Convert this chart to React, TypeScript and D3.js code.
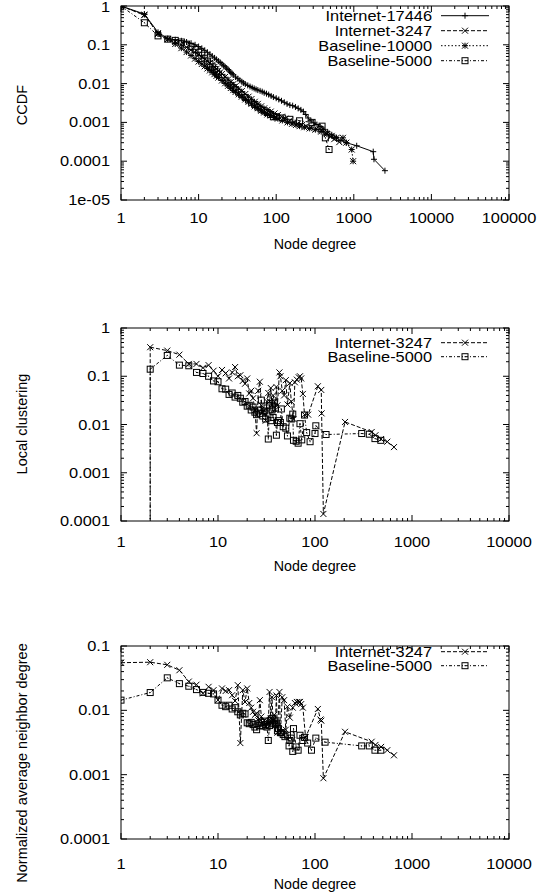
import React from "react";
import * as d3 from "d3";

type Pt = [number, number];

// ---------------- DATA ----------------
// Panel 1: CCDF of node degree
const ccdfInternet17446: Pt[] = [
  [1, 1], [2, 0.62], [3, 0.21], [4, 0.145], [5, 0.135], [6, 0.127], [7, 0.118], [8, 0.11], [9, 0.1], [10, 0.09],
  [11, 0.081], [12, 0.072], [13, 0.064], [14, 0.057], [15, 0.051], [16, 0.046], [17, 0.042], [18, 0.038], [19, 0.035],
  [20, 0.032], [21, 0.029], [22, 0.027], [23, 0.025], [24, 0.023], [25, 0.021], [26, 0.0195], [27, 0.018], [28, 0.0168],
  [30, 0.0148], [32, 0.0134], [34, 0.0122], [36, 0.0112], [38, 0.0104], [40, 0.0097], [43, 0.009], [46, 0.0084],
  [49, 0.0079], [52, 0.0075], [55, 0.0071], [58, 0.0068], [62, 0.0065], [66, 0.0062], [70, 0.0058], [75, 0.0055],
  [80, 0.0052], [86, 0.0048], [92, 0.0045], [100, 0.0042], [108, 0.0039], [117, 0.0036], [127, 0.0033], [138, 0.003],
  [150, 0.0028], [163, 0.0027], [177, 0.0025], [192, 0.0023], [208, 0.0021], [224, 0.0019], [240, 0.0016], [258, 0.0013],
  [280, 0.0011], [305, 0.00097], [335, 0.00088], [370, 0.00078], [410, 0.00066], [460, 0.00057], [520, 0.00048],
  [590, 0.00041], [680, 0.00034], [800, 0.0003], [1090, 0.00025], [1780, 0.000176], [1820, 0.000112], [2520, 0.000057],
];
const ccdfInternet3247: Pt[] = [
  [1, 1], [2, 0.58], [3, 0.2], [4, 0.14], [5, 0.12], [6, 0.1], [7, 0.086], [8, 0.074], [9, 0.064], [10, 0.056],
  [11, 0.049], [12, 0.043], [13, 0.038], [14, 0.034], [15, 0.03], [16, 0.027], [17, 0.024], [18, 0.0215], [19, 0.0195],
  [20, 0.0178], [22, 0.015], [24, 0.0128], [26, 0.011], [28, 0.0097], [30, 0.0086], [33, 0.0074], [36, 0.0064],
  [40, 0.0054], [44, 0.0046], [48, 0.004], [53, 0.0034], [58, 0.003], [64, 0.0026], [70, 0.0023], [77, 0.0021],
  [85, 0.0019], [95, 0.0017], [105, 0.00155], [118, 0.0014], [132, 0.00125], [150, 0.00112], [170, 0.001],
  [190, 0.00093], [215, 0.00086], [245, 0.0008], [280, 0.00074], [330, 0.00068], [380, 0.00062], [440, 0.00052],
  [500, 0.00043], [560, 0.00037], [650, 0.00031],
];
const ccdfBaseline10000: Pt[] = [
  [1, 1], [2, 0.6], [3, 0.19], [4, 0.14], [5, 0.105], [6, 0.082], [7, 0.065], [8, 0.053], [9, 0.044], [10, 0.037],
  [11, 0.032], [12, 0.028], [13, 0.0245], [14, 0.0218], [15, 0.0195], [16, 0.0175], [17, 0.0158], [18, 0.0143],
  [20, 0.012], [22, 0.0102], [24, 0.0088], [26, 0.0077], [28, 0.0068], [30, 0.0061], [33, 0.0053], [36, 0.0046],
  [40, 0.0039], [44, 0.0034], [48, 0.003], [53, 0.0026], [58, 0.0023], [64, 0.002], [70, 0.0018], [77, 0.0016],
  [85, 0.0015], [95, 0.00135], [105, 0.00125], [120, 0.00112], [140, 0.001], [160, 0.00092], [180, 0.00086],
  [200, 0.0008], [230, 0.00075], [270, 0.0007], [320, 0.00065], [380, 0.00058], [450, 0.0005], [520, 0.00045],
  [600, 0.0004], [725, 0.0004], [800, 0.0003], [940, 0.0002], [980, 0.0001],
];
const ccdfBaseline5000: Pt[] = [
  [1, 1], [2, 0.37], [3, 0.17], [4, 0.14], [5, 0.13], [6, 0.118], [7, 0.104], [8, 0.09], [9, 0.076], [10, 0.064],
  [11, 0.054], [12, 0.045], [13, 0.038], [14, 0.032], [15, 0.027], [16, 0.023], [17, 0.02], [18, 0.0175], [20, 0.0145],
  [22, 0.0122], [24, 0.0104], [26, 0.009], [28, 0.0079], [30, 0.007], [33, 0.006], [36, 0.0052], [40, 0.0044],
  [44, 0.0038], [48, 0.0033], [53, 0.0029], [58, 0.0025], [64, 0.0022], [70, 0.002], [77, 0.0018], [85, 0.0016],
  [92, 0.0014], [100, 0.0014], [120, 0.0013], [150, 0.0012], [200, 0.0011], [290, 0.001], [390, 0.0008],
  [430, 0.0004], [480, 0.0002],
];

// Panel 2: local clustering (0 = undefined at degree 1)
const clustInternet3247: Pt[] = [
  [1, 0], [2, 0.4], [3, 0.34], [4, 0.28], [5, 0.18], [6, 0.18], [7, 0.15], [8, 0.17], [9, 0.13], [10, 0.1],
  [11, 0.135], [12, 0.115], [13, 0.09], [14, 0.12], [15, 0.155], [16, 0.1], [17, 0.105], [18, 0.08], [19, 0.07],
  [20, 0.09], [21, 0.044], [22, 0.05], [23, 0.035], [24, 0.02], [25, 0.0066], [26, 0.05], [27, 0.077], [28, 0.025],
  [29, 0.018], [30, 0.02], [31, 0.012], [32, 0.03], [33, 0.045], [34, 0.03], [35, 0.057], [36, 0.025], [37, 0.04],
  [38, 0.03], [39, 0.02], [40, 0.06], [41, 0.025], [43, 0.12], [44, 0.1], [46, 0.05], [48, 0.04], [50, 0.083],
  [52, 0.026], [55, 0.072], [57, 0.03], [60, 0.013], [62, 0.075], [65, 0.085], [68, 0.095], [70, 0.1], [72, 0.09],
  [75, 0.043], [78, 0.016], [85, 0.016], [107, 0.062], [116, 0.052], [117, 0.017], [122, 0.00014], [204, 0.0113],
  [384, 0.007], [420, 0.006], [480, 0.005], [556, 0.0044], [652, 0.0034],
];
const clustBaseline5000: Pt[] = [
  [1, 0], [2, 0.14], [3, 0.27], [4, 0.17], [5, 0.165], [6, 0.12], [7, 0.114], [8, 0.1], [9, 0.08], [10, 0.077],
  [11, 0.055], [12, 0.054], [13, 0.042], [14, 0.045], [15, 0.037], [16, 0.04], [17, 0.035], [18, 0.029], [19, 0.03],
  [20, 0.024], [21, 0.025], [22, 0.02], [23, 0.023], [24, 0.018], [25, 0.016], [26, 0.02], [27, 0.017], [28, 0.032],
  [29, 0.015], [30, 0.019], [31, 0.013], [32, 0.022], [33, 0.005], [34, 0.025], [35, 0.012], [36, 0.02], [37, 0.014],
  [38, 0.028], [39, 0.022], [40, 0.006], [41, 0.011], [42, 0.012], [44, 0.011], [45, 0.021], [47, 0.009],
  [50, 0.0084], [52, 0.0058], [55, 0.0135], [57, 0.013], [59, 0.0164], [60, 0.0047], [64, 0.0045], [67, 0.0041],
  [70, 0.0104], [73, 0.0048], [78, 0.0157], [82, 0.0068], [89, 0.0044], [100, 0.0065], [102, 0.0094], [130, 0.0062],
  [303, 0.0065], [363, 0.0063], [415, 0.0051], [477, 0.0047],
];

// Panel 3: normalized average neighbor degree
const annInternet3247: Pt[] = [
  [1, 0.055], [2, 0.056], [3, 0.051], [4, 0.042], [5, 0.028], [6, 0.025], [7, 0.0183], [8, 0.0232], [9, 0.0206],
  [10, 0.0144], [11, 0.0219], [12, 0.02], [13, 0.0206], [14, 0.0172], [15, 0.014], [16, 0.0246], [17, 0.0031],
  [18, 0.0206], [19, 0.0135], [20, 0.0219], [21, 0.013], [22, 0.011], [23, 0.0095], [24, 0.0085], [25, 0.009],
  [26, 0.007], [27, 0.0144], [28, 0.008], [29, 0.0065], [30, 0.007], [31, 0.0055], [32, 0.006], [33, 0.0065],
  [34, 0.0193], [35, 0.0075], [36, 0.016], [37, 0.007], [38, 0.0085], [39, 0.006], [40, 0.017], [41, 0.0045],
  [43, 0.0193], [44, 0.0045], [46, 0.016], [48, 0.0144], [50, 0.005], [52, 0.0114], [55, 0.0077], [59, 0.011],
  [62, 0.013], [65, 0.0135], [68, 0.0135], [70, 0.0135], [72, 0.0125], [75, 0.011], [80, 0.0038], [107, 0.0105],
  [114, 0.0072], [116, 0.0069], [122, 0.00088], [204, 0.00464], [384, 0.00325], [420, 0.0029], [480, 0.0027],
  [556, 0.0024], [652, 0.002],
];
const annBaseline5000: Pt[] = [
  [1, 0.0144], [2, 0.0189], [3, 0.032], [4, 0.026], [5, 0.0237], [6, 0.021], [7, 0.019], [8, 0.0184], [9, 0.018],
  [10, 0.0144], [11, 0.012], [12, 0.0114], [13, 0.012], [14, 0.0105], [15, 0.011], [16, 0.0095], [17, 0.0085],
  [18, 0.009], [19, 0.0088], [20, 0.0064], [21, 0.0062], [22, 0.0065], [23, 0.006], [24, 0.0055], [25, 0.005],
  [26, 0.0062], [27, 0.0058], [28, 0.0065], [29, 0.0057], [30, 0.0068], [31, 0.006], [32, 0.0055], [33, 0.0034],
  [34, 0.0058], [35, 0.007], [36, 0.0075], [37, 0.0063], [38, 0.0068], [39, 0.006], [40, 0.0063], [41, 0.0048],
  [42, 0.0052], [44, 0.0045], [45, 0.0045], [47, 0.0042], [49, 0.0039], [52, 0.0041], [54, 0.0028], [55, 0.0034],
  [57, 0.0037], [59, 0.0023], [60, 0.0052], [64, 0.0027], [67, 0.0024], [70, 0.0041], [75, 0.0034], [78, 0.0038],
  [84, 0.0031], [92, 0.0024], [102, 0.0037], [127, 0.0032], [303, 0.0028], [363, 0.0028], [415, 0.0024], [477, 0.0024],
];

// Tick labels
const topXTicks = ["1", "10", "100", "1000", "10000", "100000"];
const topYTicks = ["1e-05", "0.0001", "0.001", "0.01", "0.1", "1"];
const midXTicks = ["1", "10", "100", "1000", "10000"];
const midYTicks = ["0.0001", "0.001", "0.01", "0.1", "1"];
const botXTicks = ["1", "10", "100", "1000", "10000"];
const botYTicks = ["0.0001", "0.001", "0.01", "0.1"];

// ---------------- STYLE / LAYOUT ----------------
const FONT = "'Liberation Sans', Arial, Helvetica, sans-serif";
const FS = 14;
const SX = 1.17;

type MarkerType = "plus" | "cross" | "star" | "box";
interface Series { name: string; data: Pt[]; dash: string | null; marker: MarkerType; }

const DASH_3247 = "4,2";
const DASH_10000 = "1.5,2";
const DASH_5000 = "3,2,1,2";

interface PanelDef {
  left: number; right: number; top: number; bottom: number;
  xDomain: [number, number]; yDomain: [number, number];
  xTicks: string[]; yTicks: string[];
  xLabelY: number; xTitleY: number;
  yTitle: string; yTitleY: number;
  legendY: number[]; series: Series[]; clipId: string;
}

const panels: PanelDef[] = [
  {
    left: 121, right: 509, top: 6, bottom: 200,
    xDomain: [1, 1e5], yDomain: [1e-5, 1],
    xTicks: topXTicks, yTicks: topYTicks,
    xLabelY: 223, xTitleY: 249, yTitle: "CCDF", yTitleY: 105,
    legendY: [15.7, 30.7, 45.7, 60.7], clipId: "c1",
    series: [
      { name: "Internet-17446", data: ccdfInternet17446, dash: null, marker: "plus" },
      { name: "Internet-3247", data: ccdfInternet3247, dash: DASH_3247, marker: "cross" },
      { name: "Baseline-10000", data: ccdfBaseline10000, dash: DASH_10000, marker: "star" },
      { name: "Baseline-5000", data: ccdfBaseline5000, dash: DASH_5000, marker: "box" },
    ],
  },
  {
    left: 121, right: 509, top: 328, bottom: 521,
    xDomain: [1, 1e4], yDomain: [1e-4, 1],
    xTicks: midXTicks, yTicks: midYTicks,
    xLabelY: 547, xTitleY: 571, yTitle: "Local clustering", yTitleY: 424,
    legendY: [342.7, 356.7], clipId: "c2",
    series: [
      { name: "Internet-3247", data: clustInternet3247, dash: DASH_3247, marker: "cross" },
      { name: "Baseline-5000", data: clustBaseline5000, dash: DASH_5000, marker: "box" },
    ],
  },
  {
    left: 121, right: 509, top: 646, bottom: 839,
    xDomain: [1, 1e4], yDomain: [1e-4, 0.1],
    xTicks: botXTicks, yTicks: botYTicks,
    xLabelY: 869, xTitleY: 889, yTitle: "Normalized average neighbor degree", yTitleY: 763,
    legendY: [651.7, 665.7], clipId: "c3",
    series: [
      { name: "Internet-3247", data: annInternet3247, dash: DASH_3247, marker: "cross" },
      { name: "Baseline-5000", data: annBaseline5000, dash: DASH_5000, marker: "box" },
    ],
  },
];

function Marker({ type, x, y }: { type: MarkerType; x: number; y: number }) {
  const s = 3;
  const st = { stroke: "#000", strokeWidth: 1, fill: "none" } as const;
  if (type === "plus") return <path d={`M${x - s},${y}H${x + s}M${x},${y - s}V${y + s}`} {...st} />;
  if (type === "cross") return <path d={`M${x - s},${y - s}L${x + s},${y + s}M${x - s},${y + s}L${x + s},${y - s}`} {...st} />;
  if (type === "star")
    return (
      <path
        d={`M${x - s},${y}H${x + s}M${x},${y - s}V${y + s}M${x - s},${y - s}L${x + s},${y + s}M${x - s},${y + s}L${x + s},${y - s}`}
        {...st}
      />
    );
  return (
    <g>
      <rect x={x - s} y={y - s} width={2 * s} height={2 * s} {...st} />
      <rect x={x - 0.5} y={y - 0.5} width={1} height={1} fill="#000" />
    </g>
  );
}

function HText({ x, y, anchor, children, sx = SX, fs = FS }: { x: number; y: number; anchor: string; children: React.ReactNode; sx?: number; fs?: number }) {
  return (
    <text transform={`translate(${x},${y}) scale(${sx},1)`} textAnchor={anchor as any} fontFamily={FONT} fontSize={fs} fill="#000">
      {children}
    </text>
  );
}

function Panel({ p }: { p: PanelDef }) {
  const x = d3.scaleLog().domain(p.xDomain).range([p.left, p.right]);
  const y = d3.scaleLog().domain(p.yDomain).range([p.bottom, p.top]);
  const major = 6, minor = 3;

  const decades = (dom: [number, number]) => {
    const lo = Math.round(Math.log10(dom[0])), hi = Math.round(Math.log10(dom[1]));
    const maj: number[] = [], min: number[] = [];
    for (let e = lo; e <= hi; e++) {
      maj.push(Math.pow(10, e));
      if (e < hi) for (let m = 2; m <= 9; m++) min.push(m * Math.pow(10, e));
    }
    return { maj, min };
  };
  const xt = decades(p.xDomain), yt = decades(p.yDomain);

  let tickPath = "";
  xt.maj.forEach((v) => { const px = x(v); tickPath += `M${px},${p.bottom}v${-major}M${px},${p.top}v${major}`; });
  xt.min.forEach((v) => { const px = x(v); tickPath += `M${px},${p.bottom}v${-minor}M${px},${p.top}v${minor}`; });
  yt.maj.forEach((v) => { const py = y(v); tickPath += `M${p.left},${py}h${major}M${p.right},${py}h${-major}`; });
  yt.min.forEach((v) => { const py = y(v); tickPath += `M${p.left},${py}h${minor}M${p.right},${py}h${-minor}`; });

  const line = d3.line<Pt>().defined((d) => d[1] > 0).x((d) => x(d[0])).y((d) => y(d[1]));

  const seriesPath = (data: Pt[]) => {
    let d = line(data) || "";
    // gnuplot-like: segment towards an undefined (zero) value drops to the bottom edge
    for (let i = 0; i < data.length - 1; i++) {
      const a = data[i], b = data[i + 1];
      if (a[1] <= 0 && b[1] > 0) d += `M${x(b[0])},${y(b[1])}V${p.bottom}`;
      if (b[1] <= 0 && a[1] > 0) d += `M${x(a[0])},${y(a[1])}V${p.bottom}`;
    }
    return d;
  };

  const legX = 432, sampleL = 441, sampleR = 489, sampleM = 465;

  return (
    <g>
      <defs>
        <clipPath id={p.clipId}>
          <rect x={p.left} y={p.top} width={p.right - p.left} height={p.bottom - p.top} />
        </clipPath>
      </defs>
      <g clipPath={`url(#${p.clipId})`}>
        {p.series.map((s, si) => (
          <g key={si}>
            <path d={seriesPath(s.data)} fill="none" stroke="#000" strokeWidth={1} strokeDasharray={s.dash || undefined} />
            {s.data.filter((d) => d[1] > 0).map((d, i) => (
              <Marker key={i} type={s.marker} x={x(d[0])} y={y(d[1])} />
            ))}
          </g>
        ))}
      </g>
      <path d={tickPath} stroke="#000" strokeWidth={1} fill="none" />
      <rect x={p.left} y={p.top} width={p.right - p.left} height={p.bottom - p.top} fill="none" stroke="#000" strokeWidth={1} />
      {p.xTicks.map((t) => (
        <HText key={t} x={x(+t)} y={p.xLabelY} anchor="middle">{t}</HText>
      ))}
      {p.yTicks.map((t) => (
        <HText key={t} x={110} y={Math.max(y(+t) + 5, 12)} anchor="end">{t}</HText>
      ))}
      <HText x={(p.left + p.right) / 2} y={p.xTitleY} anchor="middle" sx={1.02} fs={14}>Node degree</HText>
      <text
        transform={`translate(27,${p.yTitleY}) rotate(-90)`}
        textAnchor="middle"
        fontFamily={FONT}
        fontSize={14.5}
        fill="#000"
      >
        {p.yTitle}
      </text>
      {p.series.map((s, i) => (
        <g key={"leg" + i}>
          <HText x={legX} y={p.legendY[i] + 5} anchor="end">{s.name}</HText>
          <line x1={sampleL} x2={sampleR} y1={p.legendY[i]} y2={p.legendY[i]} stroke="#000" strokeWidth={1} strokeDasharray={s.dash || undefined} />
          <Marker type={s.marker} x={sampleM} y={p.legendY[i]} />
        </g>
      ))}
    </g>
  );
}

export default function App() {
  return (
    <svg
      width={556}
      height={892}
      viewBox="0 0 556 892"
      style={{ position: "absolute", left: 0, top: 0, background: "#fff" }}
    >
      <rect width={556} height={892} fill="#fff" />
      {panels.map((p, i) => (
        <Panel key={i} p={p} />
      ))}
    </svg>
  );
}
